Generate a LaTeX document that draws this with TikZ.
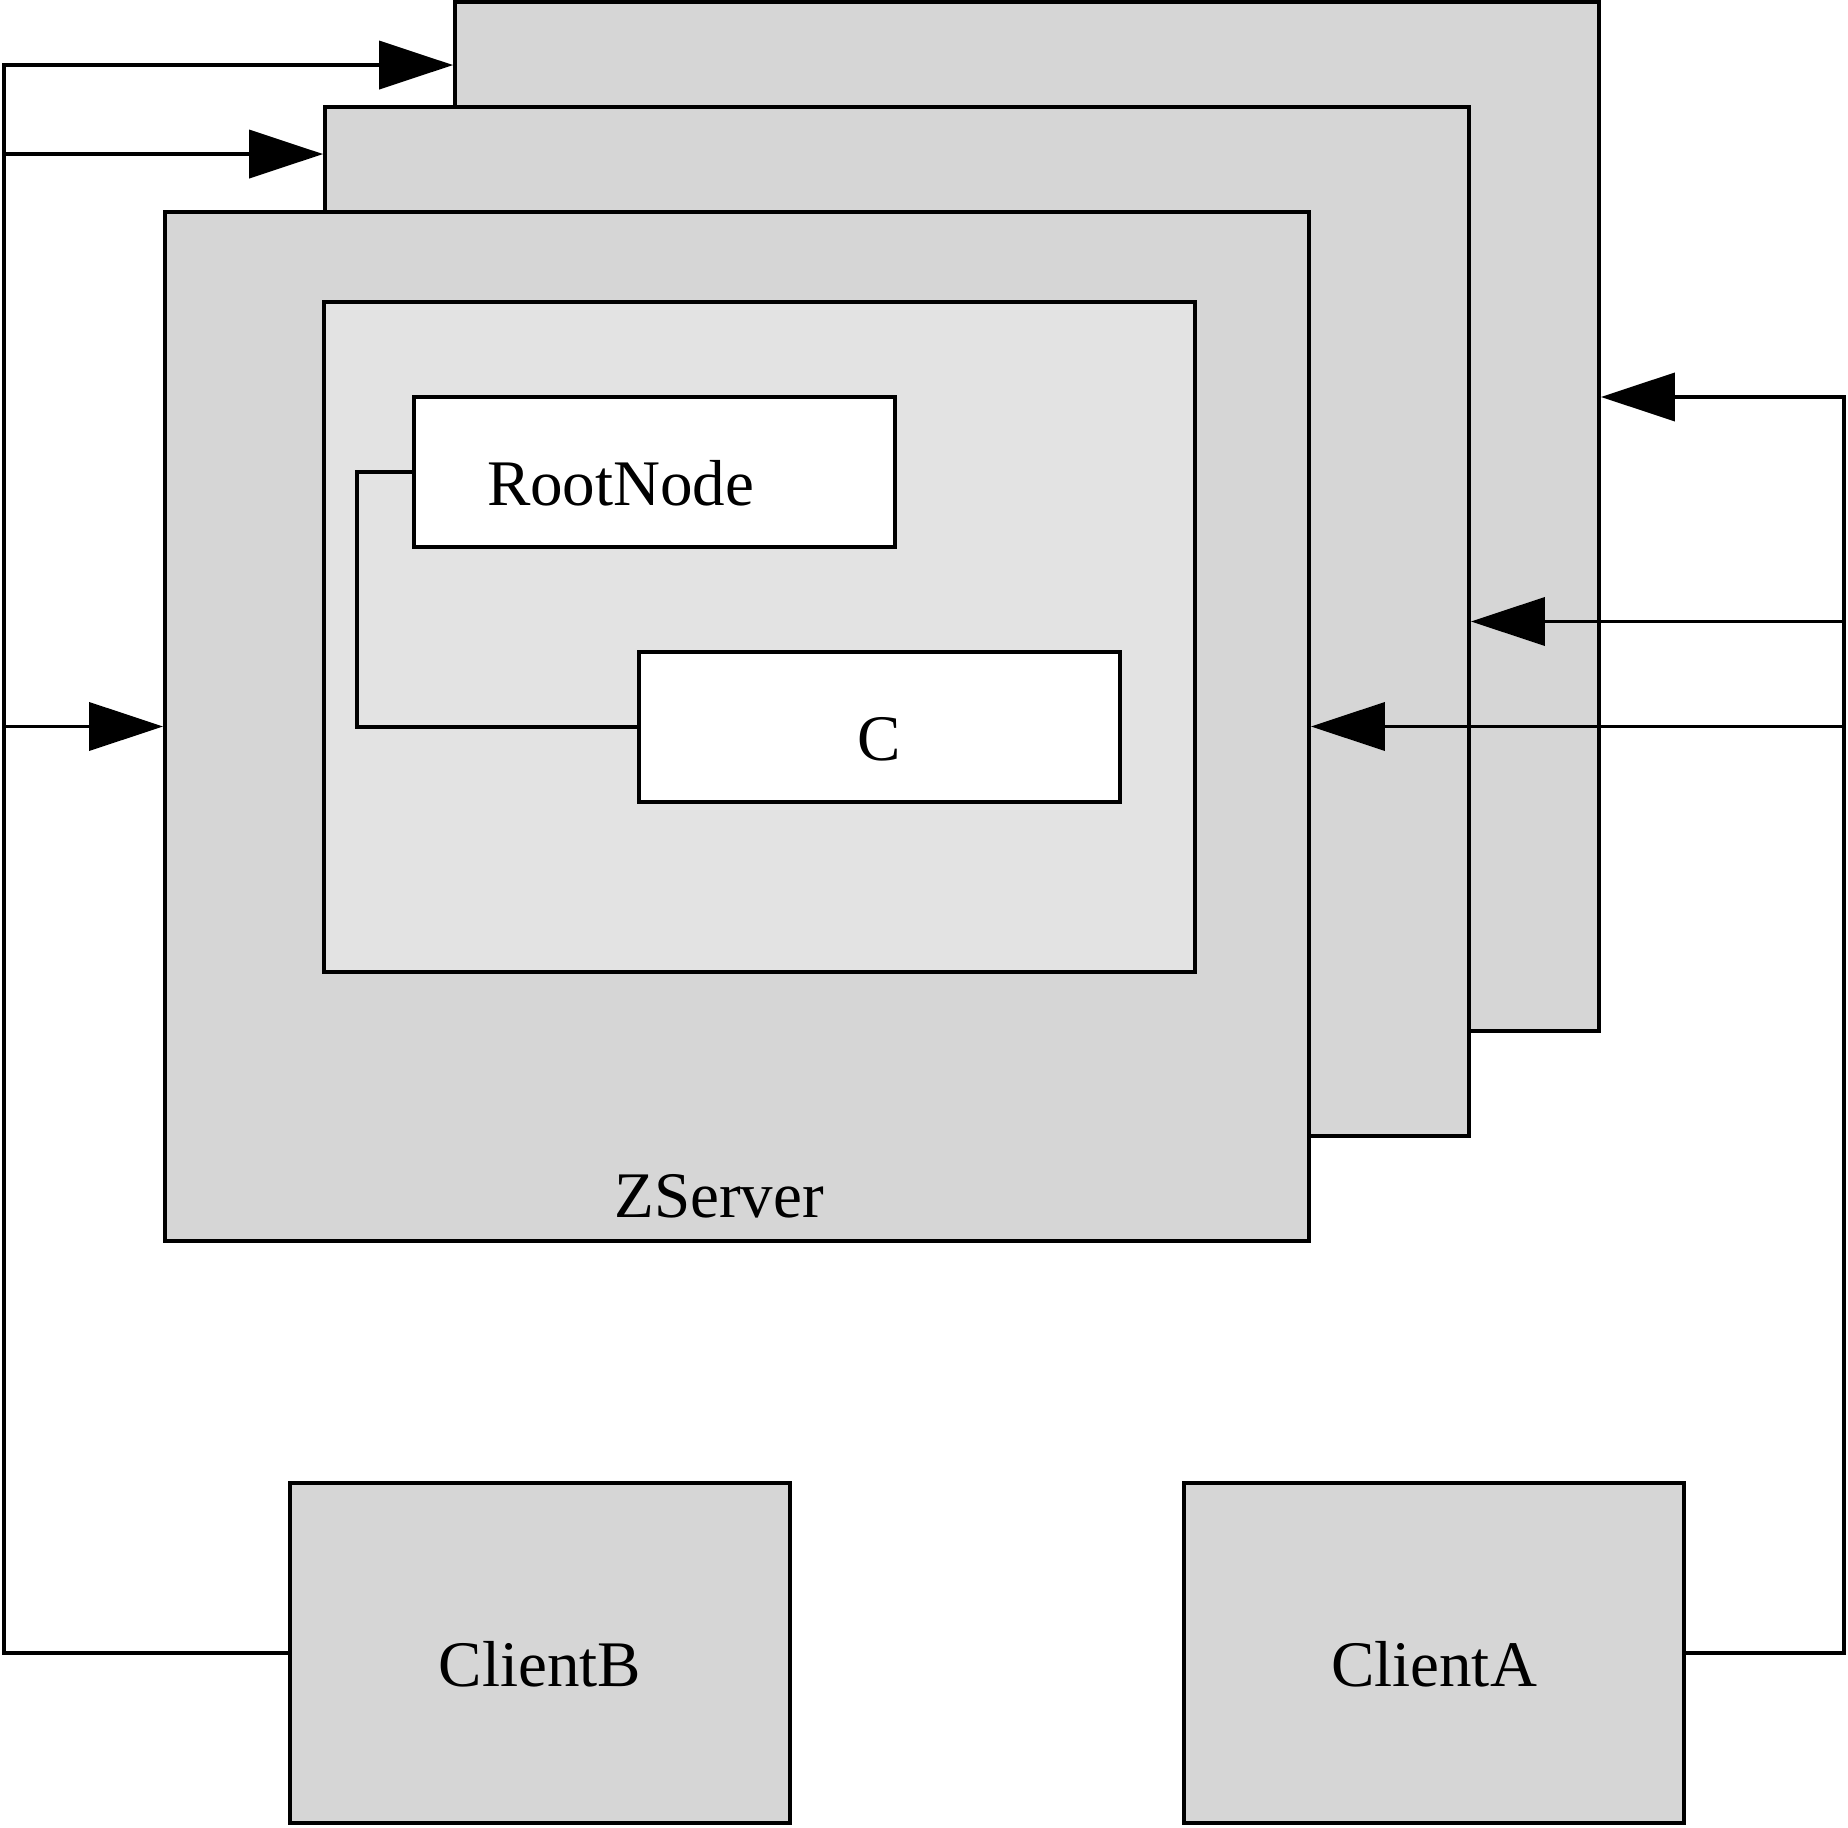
\documentclass[tikz,border=0pt]{standalone}
\usepackage{fontspec}
\setmainfont{Liberation Serif}
\usepackage{xcolor}
\usepackage{tikz}
\usetikzlibrary{positioning, arrows.meta}
\definecolor{srvgray}{RGB}{214,214,214}
\definecolor{zkgray}{RGB}{227,227,227}

\begin{document}
\begin{tikzpicture}[
    line width=1.1pt,
    every node/.style={font=\fontsize{18.5}{22}\selectfont},
    srvbox/.style={draw, fill=srvgray, minimum width=11.44cm, minimum height=10.29cm, inner sep=0pt},
    znode/.style={draw, fill=white, minimum width=4.81cm, minimum height=1.5cm, text height=0.67cm, text depth=0cm},
    client/.style={draw, fill=srvgray, minimum width=5cm, minimum height=3.40cm, text height=0.67cm, text depth=0cm},
    arr/.style={-{Triangle[length=0.74cm, width=0.48cm]}}
]
    \useasboundingbox (0,0) rectangle (18.48,18.27);

    % Server stack (back to front)
    \node[srvbox] (srv3) at (10.27,13.105) {};
    \node[srvbox] (srv2) at (8.97,12.055) {};
    \node[srvbox] (srv1) at (7.37,11.005) {};
    \node (zs) at (7.19,6.31) {ZServer};

    % Data tree inside front server
    \node[draw, fill=zkgray, minimum width=8.71cm, minimum height=6.70cm, inner sep=0pt] (zk) at (7.595,11.90) {};
    \node[znode, text width=3.35cm, inner xsep=0.73cm, align=left] (root) at (6.545,13.55) {RootNode};
    \node[znode] (c) at (8.795,11.0) {C};
    \draw (root.west) -- ++(-0.55,0) |- (c.west);

    % Clients
    \node[client] (cb) at (5.40,1.74) {ClientB};
    \node[client] (ca) at (14.34,1.74) {ClientA};

    % ClientB links (left)
    \coordinate (in3) at ([yshift=-0.65cm]srv3.north west);
    \coordinate (in2) at ([yshift=-0.49cm]srv2.north west);
    \coordinate (lx) at (0.04,0);
    \coordinate (lbus) at (lx |- in3);
    \draw[arr] (cb.west) -| (lbus) -- (in3);
    \draw[arr] (lbus |- in2) -- (in2);
    \draw[arr] (lbus |- srv1.west) -- (srv1.west);

    % ClientA links (right)
    \coordinate (out3) at ([yshift=1.195cm]srv3.east);
    \coordinate (rx) at (18.44,0);
    \coordinate (rbus) at (rx |- out3);
    \draw[arr] (ca.east) -| (rbus) -- (out3);
    \draw[arr] (rbus |- srv2.east) -- (srv2.east);
    \draw[arr] (rbus |- srv1.east) -- (srv1.east);
\end{tikzpicture}
\end{document}
